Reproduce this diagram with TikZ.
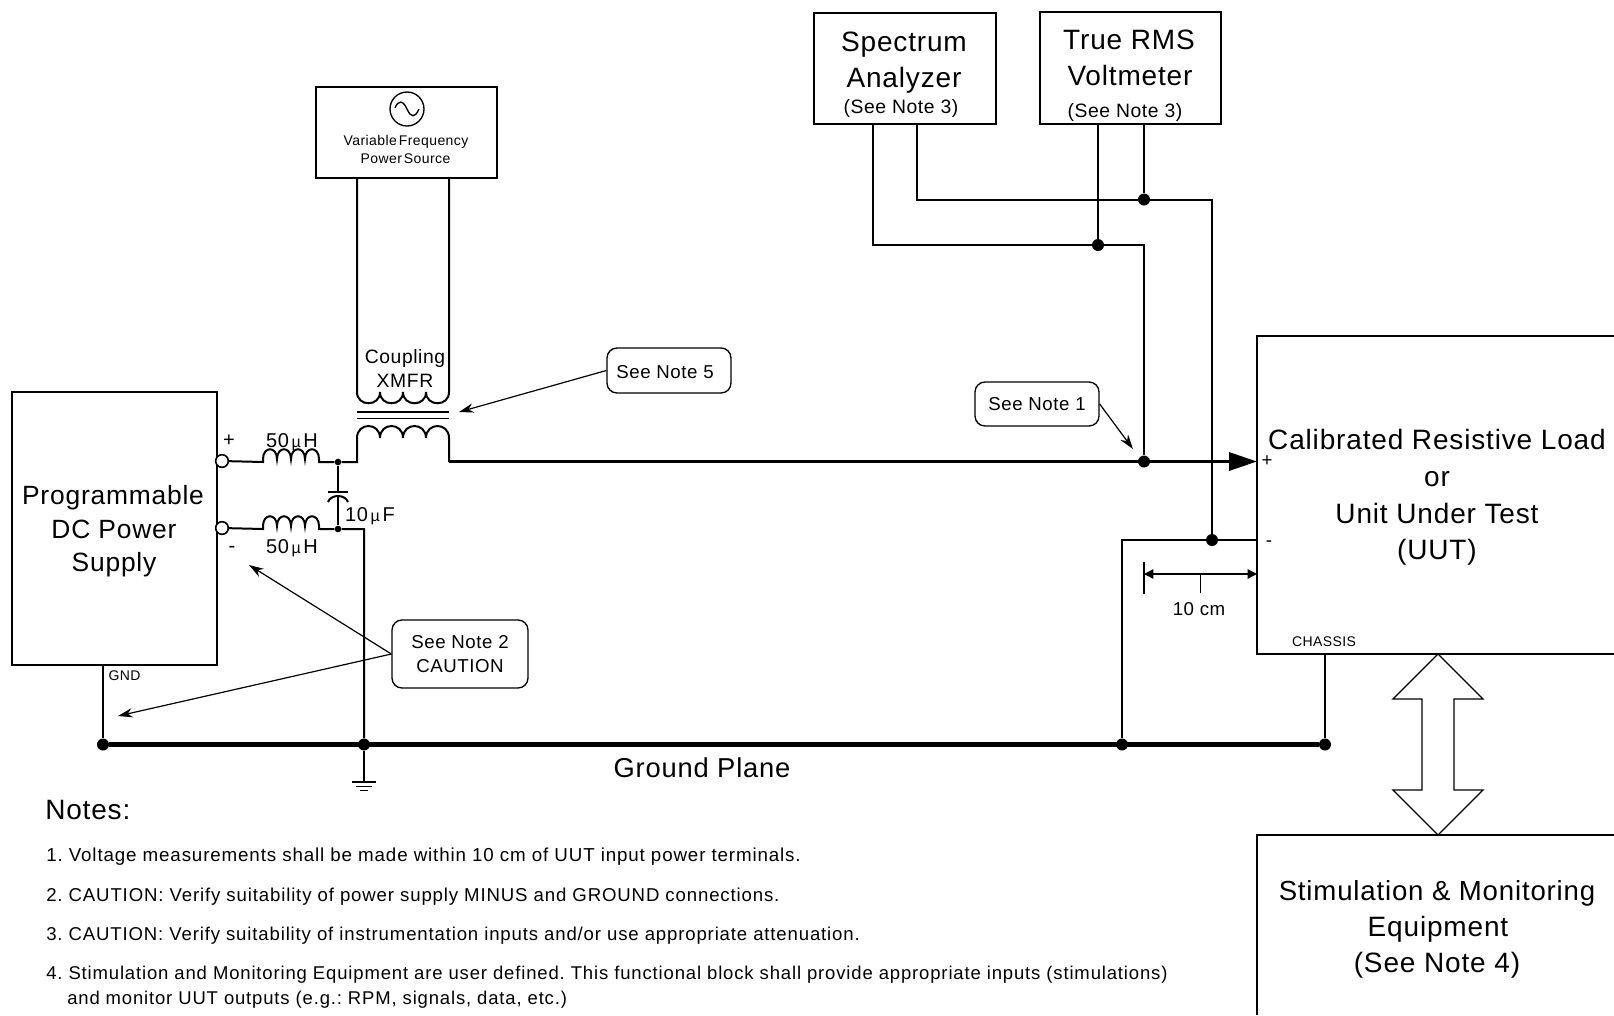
\documentclass[tikz,border=0pt]{standalone}
\usepackage{fontspec}
\usetikzlibrary{arrows.meta}
\setmainfont[LetterSpace=3]{Liberation Sans}
\newfontfamily\notefont[LetterSpace=4.6]{Liberation Sans}
\newcommand{\fsz}[1]{\fontsize{#1}{#1}\selectfont}
\newcommand{\hup}[2]{.. controls +(0,-#2) and +(0,-#2) .. ++(#1,0)}
\newcommand{\hdn}[2]{.. controls +(0,#2) and +(0,#2) .. ++(#1,0)}
\newcommand{\mic}{\hspace{2pt}{\fsz{12}µ}\hspace{2pt}}
\tikzset{
  wire/.style={line width=1.5pt,line join=miter},
  box/.style={draw,line width=1.5pt,inner sep=0pt},
  call/.style={draw,line width=1pt,rounded corners=7.5pt,inner sep=0pt,font=\fsz{14}},
  big/.style={inner sep=0pt,font=\fsz{21}},
  med/.style={inner sep=0pt,font=\fsz{14}},
  sml/.style={inner sep=0pt,font=\fsz{10.5}},
  notes/.style={inner sep=0pt,anchor=west,font=\notefont\fsz{#1}\frenchspacing},
  bigdot/.style={circle,fill=black,inner sep=0pt,minimum size=9pt},
  smalldot/.style={circle,fill=black,inner sep=0pt,minimum size=5pt},
  term/.style={circle,draw,fill=white,line width=1.2pt,inner sep=0pt,minimum size=9.5pt},
  lead/.style={line width=0.9pt,-{Stealth[length=11pt,width=7pt]}},
  dimen/.style={line width=1pt,{Triangle[length=7pt,width=7pt]}-{Triangle[length=7pt,width=7pt]}},
}
\begin{document}
\begin{tikzpicture}[x=0.75pt,y=-0.75pt]
\useasboundingbox (0,0) rectangle (1614,1015);
% boxes
\node[box,minimum width=136.5pt,minimum height=83.6pt] (spec) at (904.5,68.75) {};
\node[box,minimum width=135.75pt,minimum height=84.4pt] (rms) at (1130.5,67.8) {};
\node[box,minimum width=135.75pt,minimum height=68.25pt] (src) at (406.5,132.5) {};
\node[box,minimum width=153.75pt,minimum height=204.75pt] (psu) at (114.8,528.8) {};
\coordinate (uutTR) at (1614,336);
\coordinate (uutTL) at (1257,336);
\coordinate (uutBL) at (1257,654);
\coordinate (uutBR) at (1614,654);
\draw[wire] (uutTR) -- (uutTL) -- (uutBL) -- (uutBR);
\coordinate (stTR) at (1614,835);
\coordinate (stTL) at (1257,835);
\coordinate (stBL) at (1257,1015);
\draw[wire] (stTR) -- (stTL) -- (stBL);
% source symbol
\node[circle,draw,line width=1pt,inner sep=0pt,minimum size=25.5pt] (sine) at (407,109) {};
\draw[line width=1pt] (395,108) .. controls (398,100) and (403,100) .. (407,109) .. controls (411,118) and (415,118) .. (419,109);
\node[sml] (srct1) at (406,141.5) {Variable\hspace{1.5pt}Frequency};
\node[sml] (srct2) at (405.5,159) {Power\hspace{1.5pt}Source};
% transformer
\coordinate (tul) at (357,177);
\coordinate (tur) at (449,177);
\draw[wire] (tul) -- (357,392) \hdn{23}{15} \hdn{23}{15} \hdn{23}{15} \hdn{23}{15} -- (tur);
\draw[line width=1pt] (357,412) -- (449,412);
\draw[line width=1pt] (357,418.5) -- (449,418.5);
% junctions and terminals
\node[term] (tp) at (222,461) {};
\node[term] (tm) at (222,528) {};
\node[smalldot] (jp) at (338,462) {};
\node[smalldot] (jm) at (338,529) {};
% + rail
\draw[wire] (tp) -- (263,462) -- (263,459) \hup{14}{13} \hup{14}{13} \hup{14}{13} \hup{14}{13} -- (319,462) -- (jp) -- (357,462) -- (357,438) \hup{23}{16} \hup{23}{16} \hup{23}{16} \hup{23}{16} -- (449,462);
\coordinate (railstart) at (449,461.5);
\coordinate (uutp) at (1257,461.5);
\draw[line width=2.6pt,-{Triangle[length=21pt,width=13.5pt]}] (railstart) -- (uutp);
% - rail
\coordinate (gcorner) at (364,529);
\node[bigdot] (g1) at (364,744.5) {};
\draw[wire] (tm) -- (263,529) -- (263,526) \hup{14}{13} \hup{14}{13} \hup{14}{13} \hup{14}{13} -- (319,529) -- (jm) -- (gcorner) -- (g1);
% capacitor
\coordinate (capa) at (338,492);
\coordinate (capb) at (338,496);
\draw[wire] (jp) -- (capa);
\draw[wire] (capb) -- (jm);
\draw[wire] (328,492) -- (348,492);
\draw[wire] (328,502) .. controls (331,494) and (345,494) .. (348,502);
% ground bus
\node[bigdot] (g0) at (103,744.5) {};
\node[bigdot] (g2) at (1122,744.5) {};
\node[bigdot] (g3) at (1325,744.5) {};
\draw[line width=4pt] (g0) -- (g3);
\draw[wire] (103,665) -- (g0);
\draw[wire] (1325,654) -- (g3);
% earth symbol
\coordinate (earth) at (364,782);
\draw[wire] (g1) -- (earth);
\draw[line width=1.2pt] (352,782) -- (376,782);
\draw[line width=1.2pt] (356,786.5) -- (372,786.5);
\draw[line width=1.2pt] (360,790.5) -- (368,790.5);
% measurement wiring
\node[bigdot] (d1) at (1144,461.5) {};
\node[bigdot] (d2) at (1098,245) {};
\node[bigdot] (d3) at (1144,199.5) {};
\node[bigdot] (d4) at (1212,540) {};
\draw[wire] (873,124) -- (873,245) -- (d2) -- (1144,245) -- (d1);
\draw[wire] (1098,124) -- (d2);
\draw[wire] (917,124) -- (917,199.5) -- (d3) -- (1212,199.5) -- (d4);
\draw[wire] (1144,124) -- (d3);
\draw[wire] (1257,540) -- (d4) -- (1122,540) -- (g2);
% dimension
\coordinate (dL) at (1144,574);
\coordinate (dR) at (1257,574);
\draw[dimen] (dL) -- (dR);
\draw[line width=1.6pt] (1144,562) -- (1144,594);
\draw[line width=1pt] (1200.5,574) -- (1200.5,593);
% double arrow
\draw[line width=1pt,fill=white] (1438,654) -- (1483,699) -- (1454,699) -- (1454,790) -- (1483,790) -- (1438,835) -- (1393,790) -- (1422,790) -- (1422,699) -- (1393,699) -- cycle;
% callouts
\node[call,minimum width=93pt,minimum height=33.75pt] (n5) at (669,370.5) {};
\node[med] (n5t) at (665,372) {See Note 5};
\node[call,minimum width=93pt,minimum height=33pt] (n1) at (1037,404) {See Note 1};
\node[call,minimum width=102pt,minimum height=51pt,align=center] (n2) at (460,654) {See Note 2\\[3.5pt]CAUTION};
\coordinate (a5) at (459,412);
\coordinate (a1) at (1133,449);
\coordinate (a2a) at (249,565);
\coordinate (a2b) at (118,716);
\draw[lead] (n5.west) -- (a5);
\draw[lead] (n1.east) -- (a1);
\draw[lead] (n2.west) -- (a2a);
\draw[lead] (n2.west) -- (a2b);
% labels
\node[big] (l1) at (904,45) {Spectrum};
\node[big] (l2) at (904,80) {Analyzer};
\node[med,font=\fsz{14.5}] (l3) at (901,108) {(See Note 3)};
\node[big] (l4) at (1129,40) {True RMS};
\node[big] (l5) at (1130,75) {Voltmeter};
\node[med,font=\fsz{14.5}] (l6) at (1125,112) {(See Note 3)};
\node[big,font=\fsz{19.8}] (l7) at (113,498) {Programmable};
\node[big,font=\fsz{19.8}] (l8) at (114,529) {DC Power};
\node[big,font=\fsz{19.8}] (l9) at (114,565) {Supply};
\node[med,font=\fsz{15}] (l10) at (292,442) {50\mic H};
\node[med,font=\fsz{15}] (l11) at (292,548) {50\mic H};
\node[med,font=\fsz{15}] (l12) at (370,516) {10\mic F};
\node[med,font=\fsz{15}] (l13) at (229,441) {+};
\node[med,font=\fsz{15}] (l14) at (232,549) {-};
\node[med,font=\fsz{14.5}] (l15) at (405,358.5) {Coupling};
\node[med,font=\fsz{14.5}] (l16) at (405,381) {XMFR};
\node[big] (l17) at (1437,439) {Calibrated Resistive Load};
\node[big] (l18) at (1437,479) {or};
\node[big] (l19) at (1437,513) {Unit Under Test};
\node[big] (l20) at (1437,552) {(UUT)};
\node[big,font=\fsz{20.7}] (l21) at (1437,893) {Stimulation \& Monitoring};
\node[big] (l22) at (1438,929) {Equipment};
\node[big] (l23) at (1437,965) {(See Note 4)};
\node[big,font=\fsz{20.5}] (l24) at (702,768) {Ground Plane};
\node[med] (l25) at (1267,461) {+};
\node[med] (l26) at (1269,544) {-};
\node[med] (l27) at (1199,609) {10 cm};
\node[sml] (l28) at (1324,642) {CHASSIS};
\node[sml] (l29) at (124.5,676) {GND};
\node[big,anchor=west] (l30) at (45,810) {Notes:};
\node[notes=14.07] (t1) at (46,857) {1. Voltage measurements shall be made within 10 cm of UUT input power terminals.};
\node[notes=13.96] (t2) at (46,896.5) {2. CAUTION: Verify suitability of power supply MINUS and GROUND connections.};
\node[notes=13.93] (t3) at (46,936) {3. CAUTION: Verify suitability of instrumentation inputs and/or use appropriate attenuation.};
\node[notes=13.87] (t4) at (46,975) {4. Stimulation and Monitoring Equipment are user defined. This functional block shall provide appropriate inputs (stimulations)};
\node[notes=13.85] (t5) at (67,999.5) {and monitor UUT outputs (e.g.: RPM, signals, data, etc.)};
\end{tikzpicture}
\end{document}
